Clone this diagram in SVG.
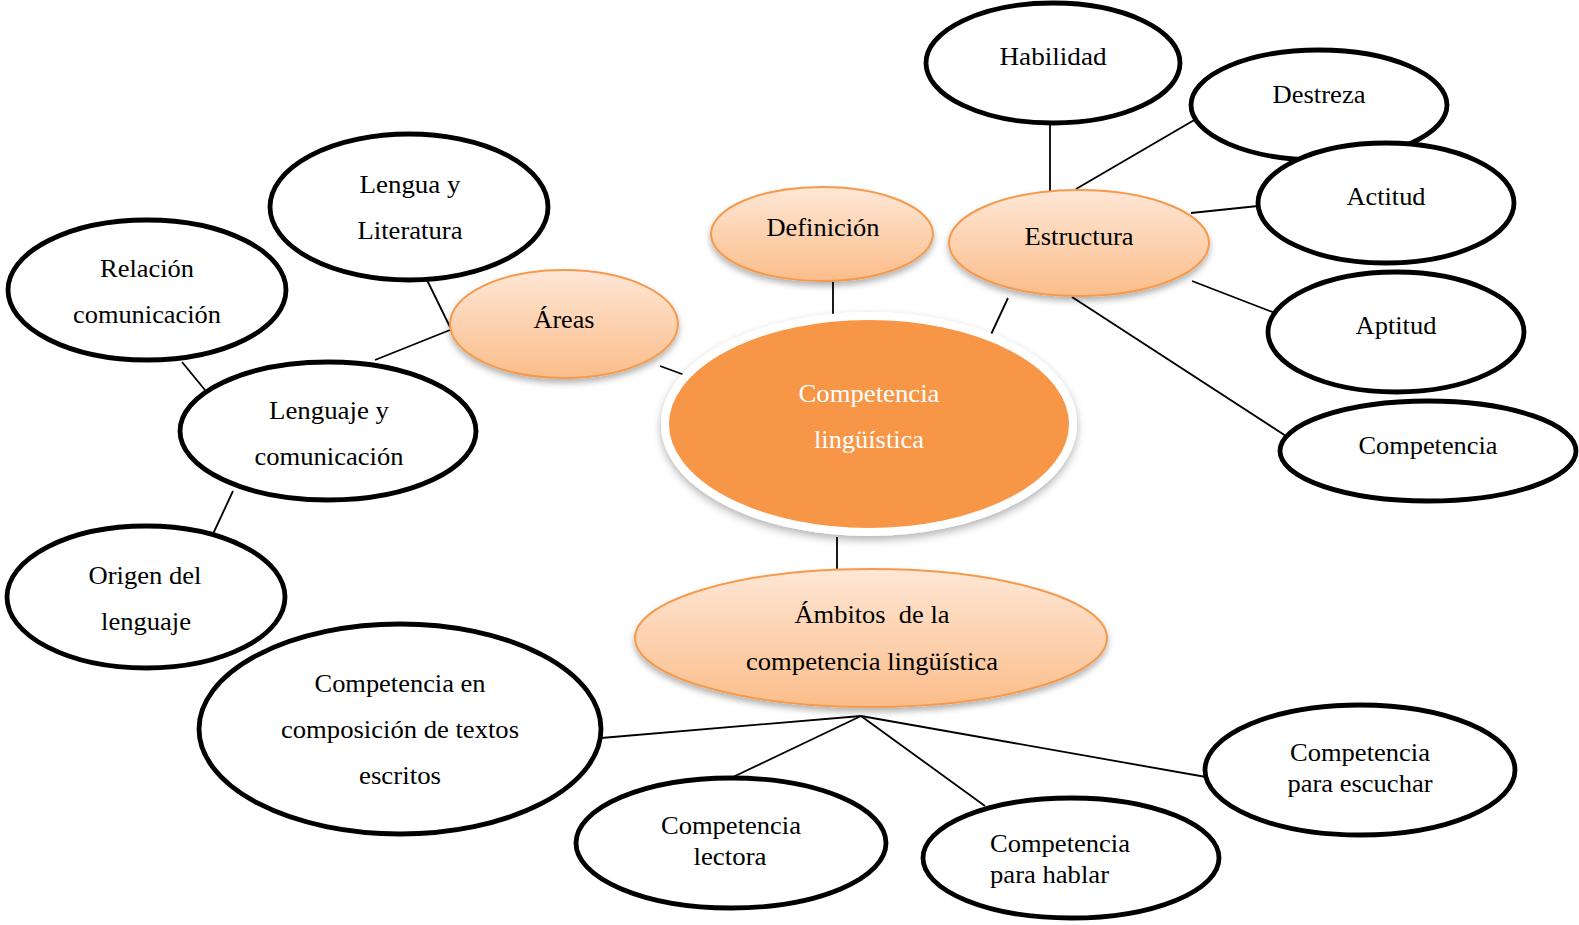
<svg xmlns="http://www.w3.org/2000/svg" width="1579" height="925" viewBox="0 0 1579 925">
<style>
  .b { fill: #ffffff; stroke: #000000; stroke-width: 4.8; }
  .o { fill: url(#og); stroke: #f59a4e; stroke-width: 2; filter: url(#sh); }
  .c { fill: #f79646; stroke: #ffffff; stroke-width: 8; filter: url(#sh2); }
  text { font-family: 'Liberation Serif', 'DejaVu Serif', 'Times New Roman', serif; font-size: 26px; fill: #000000; }
  .t { text-anchor: middle; }
  .tl { text-anchor: start; }
  .w { fill: #ffffff; }
  #connectors line { stroke: #000000; stroke-width: 1.8; }
</style>
<defs>
  <linearGradient id="og" x1="0" y1="0" x2="0" y2="1">
    <stop offset="0" stop-color="#fee7d6"/>
    <stop offset="1" stop-color="#fbbd8a"/>
  </linearGradient>
  <filter id="sh" x="-20%" y="-20%" width="140%" height="150%">
    <feDropShadow dx="0" dy="4" stdDeviation="3" flood-color="#000000" flood-opacity="0.3"/>
  </filter>
  <filter id="sh2" x="-20%" y="-20%" width="140%" height="150%">
    <feDropShadow dx="0" dy="4" stdDeviation="4" flood-color="#000000" flood-opacity="0.3"/>
  </filter>
</defs>

<g id="connectors">
  <line x1="1050" y1="123" x2="1050" y2="191"/>
  <line x1="1196" y1="119" x2="1076" y2="189"/>
  <line x1="1258" y1="206" x2="1191" y2="213"/>
  <line x1="1192" y1="281" x2="1275" y2="313"/>
  <line x1="1072" y1="297" x2="1286" y2="436"/>
  <line x1="1008" y1="298" x2="987" y2="343"/>
  <line x1="833" y1="281" x2="833" y2="327"/>
  <line x1="660" y1="366" x2="701" y2="381"/>
  <line x1="427" y1="280" x2="450" y2="327"/>
  <line x1="450" y1="330" x2="375" y2="360"/>
  <line x1="182" y1="362" x2="205" y2="390"/>
  <line x1="233" y1="491" x2="213" y2="534"/>
  <line x1="837" y1="537" x2="837" y2="570"/>
  <line x1="861" y1="716" x2="601" y2="738"/>
  <line x1="861" y1="716" x2="733" y2="777"/>
  <line x1="861" y1="716" x2="985" y2="806"/>
  <line x1="861" y1="716" x2="1206" y2="777"/>
</g>

<g id="n-habilidad">
  <ellipse class="b" cx="1053" cy="63" rx="127" ry="60"/>
  <text class="t" x="1053" y="65" textLength="107" lengthAdjust="spacingAndGlyphs">Habilidad</text>
</g>
<g id="n-destreza">
  <ellipse class="b" cx="1319" cy="105" rx="128" ry="55"/>
  <text class="t" x="1319" y="103" textLength="93" lengthAdjust="spacingAndGlyphs">Destreza</text>
</g>
<g id="n-actitud">
  <ellipse class="b" cx="1386" cy="203" rx="128" ry="60"/>
  <text class="t" x="1386" y="205" textLength="79" lengthAdjust="spacingAndGlyphs">Actitud</text>
</g>
<g id="n-aptitud">
  <ellipse class="b" cx="1396" cy="332" rx="128" ry="60"/>
  <text class="t" x="1396" y="334" textLength="81" lengthAdjust="spacingAndGlyphs">Aptitud</text>
</g>
<g id="n-competencia">
  <ellipse class="b" cx="1428" cy="451" rx="148" ry="50"/>
  <text class="t" x="1428" y="454" textLength="139" lengthAdjust="spacingAndGlyphs">Competencia</text>
</g>

<g id="n-estructura">
  <ellipse class="o" cx="1079" cy="243" rx="130" ry="53"/>
  <text class="t" x="1079" y="245" textLength="109" lengthAdjust="spacingAndGlyphs">Estructura</text>
</g>
<g id="n-definicion">
  <ellipse class="o" cx="822" cy="234" rx="111" ry="47"/>
  <text class="t" x="823" y="236" textLength="113" lengthAdjust="spacingAndGlyphs">Definición</text>
</g>
<g id="n-areas">
  <ellipse class="o" cx="564" cy="324" rx="114" ry="54"/>
  <text class="t" x="564" y="328" textLength="61" lengthAdjust="spacingAndGlyphs">Áreas</text>
</g>

<g id="n-central">
  <ellipse class="c" cx="869" cy="424" rx="204" ry="108"/>
  <text class="t w" x="869" y="402" textLength="141" lengthAdjust="spacingAndGlyphs">Competencia</text>
  <text class="t w" x="869" y="448" textLength="110" lengthAdjust="spacingAndGlyphs">lingüística</text>
</g>

<g id="n-lengua-literatura">
  <ellipse class="b" cx="409" cy="207" rx="139" ry="73"/>
  <text class="t" x="410" y="193" textLength="101" lengthAdjust="spacingAndGlyphs">Lengua y</text>
  <text class="t" x="410" y="239" textLength="105" lengthAdjust="spacingAndGlyphs">Literatura</text>
</g>
<g id="n-relacion">
  <ellipse class="b" cx="147" cy="290" rx="139" ry="70"/>
  <text class="t" x="147" y="277" textLength="94" lengthAdjust="spacingAndGlyphs">Relación</text>
  <text class="t" x="147" y="323" textLength="148" lengthAdjust="spacingAndGlyphs">comunicación</text>
</g>
<g id="n-lenguaje">
  <ellipse class="b" cx="328" cy="431" rx="148" ry="69"/>
  <text class="t" x="329" y="419" textLength="120" lengthAdjust="spacingAndGlyphs">Lenguaje y</text>
  <text class="t" x="329" y="465" textLength="149" lengthAdjust="spacingAndGlyphs">comunicación</text>
</g>
<g id="n-origen">
  <ellipse class="b" cx="146" cy="597" rx="139" ry="71"/>
  <text class="t" x="145" y="584" textLength="113" lengthAdjust="spacingAndGlyphs">Origen del</text>
  <text class="t" x="146" y="630" textLength="90" lengthAdjust="spacingAndGlyphs">lenguaje</text>
</g>

<g id="n-ambitos">
  <ellipse class="o" cx="871" cy="638" rx="236" ry="69"/>
  <text class="t" x="872" y="623" textLength="155" lengthAdjust="spacingAndGlyphs" xml:space="preserve">Ámbitos  de la</text>
  <text class="t" x="872" y="670" textLength="252" lengthAdjust="spacingAndGlyphs">competencia lingüística</text>
</g>

<g id="n-composicion">
  <ellipse class="b" cx="400" cy="729" rx="201" ry="105"/>
  <text class="t" x="400" y="692" textLength="171" lengthAdjust="spacingAndGlyphs">Competencia en</text>
  <text class="t" x="400" y="738" textLength="238" lengthAdjust="spacingAndGlyphs">composición de textos</text>
  <text class="t" x="400" y="784" textLength="82" lengthAdjust="spacingAndGlyphs">escritos</text>
</g>
<g id="n-lectora">
  <ellipse class="b" cx="731" cy="843" rx="155" ry="65"/>
  <text class="t" x="731" y="834" textLength="140" lengthAdjust="spacingAndGlyphs">Competencia</text>
  <text class="t" x="730" y="865" textLength="73" lengthAdjust="spacingAndGlyphs">lectora</text>
</g>
<g id="n-hablar">
  <ellipse class="b" cx="1071" cy="858" rx="148" ry="60"/>
  <text class="tl" x="990" y="852" textLength="140" lengthAdjust="spacingAndGlyphs">Competencia</text>
  <text class="tl" x="990" y="883" textLength="119" lengthAdjust="spacingAndGlyphs">para hablar</text>
</g>
<g id="n-escuchar">
  <ellipse class="b" cx="1360" cy="770" rx="155" ry="65"/>
  <text class="t" x="1360" y="761" textLength="140" lengthAdjust="spacingAndGlyphs">Competencia</text>
  <text class="t" x="1360" y="792" textLength="145" lengthAdjust="spacingAndGlyphs">para escuchar</text>
</g>
</svg>
